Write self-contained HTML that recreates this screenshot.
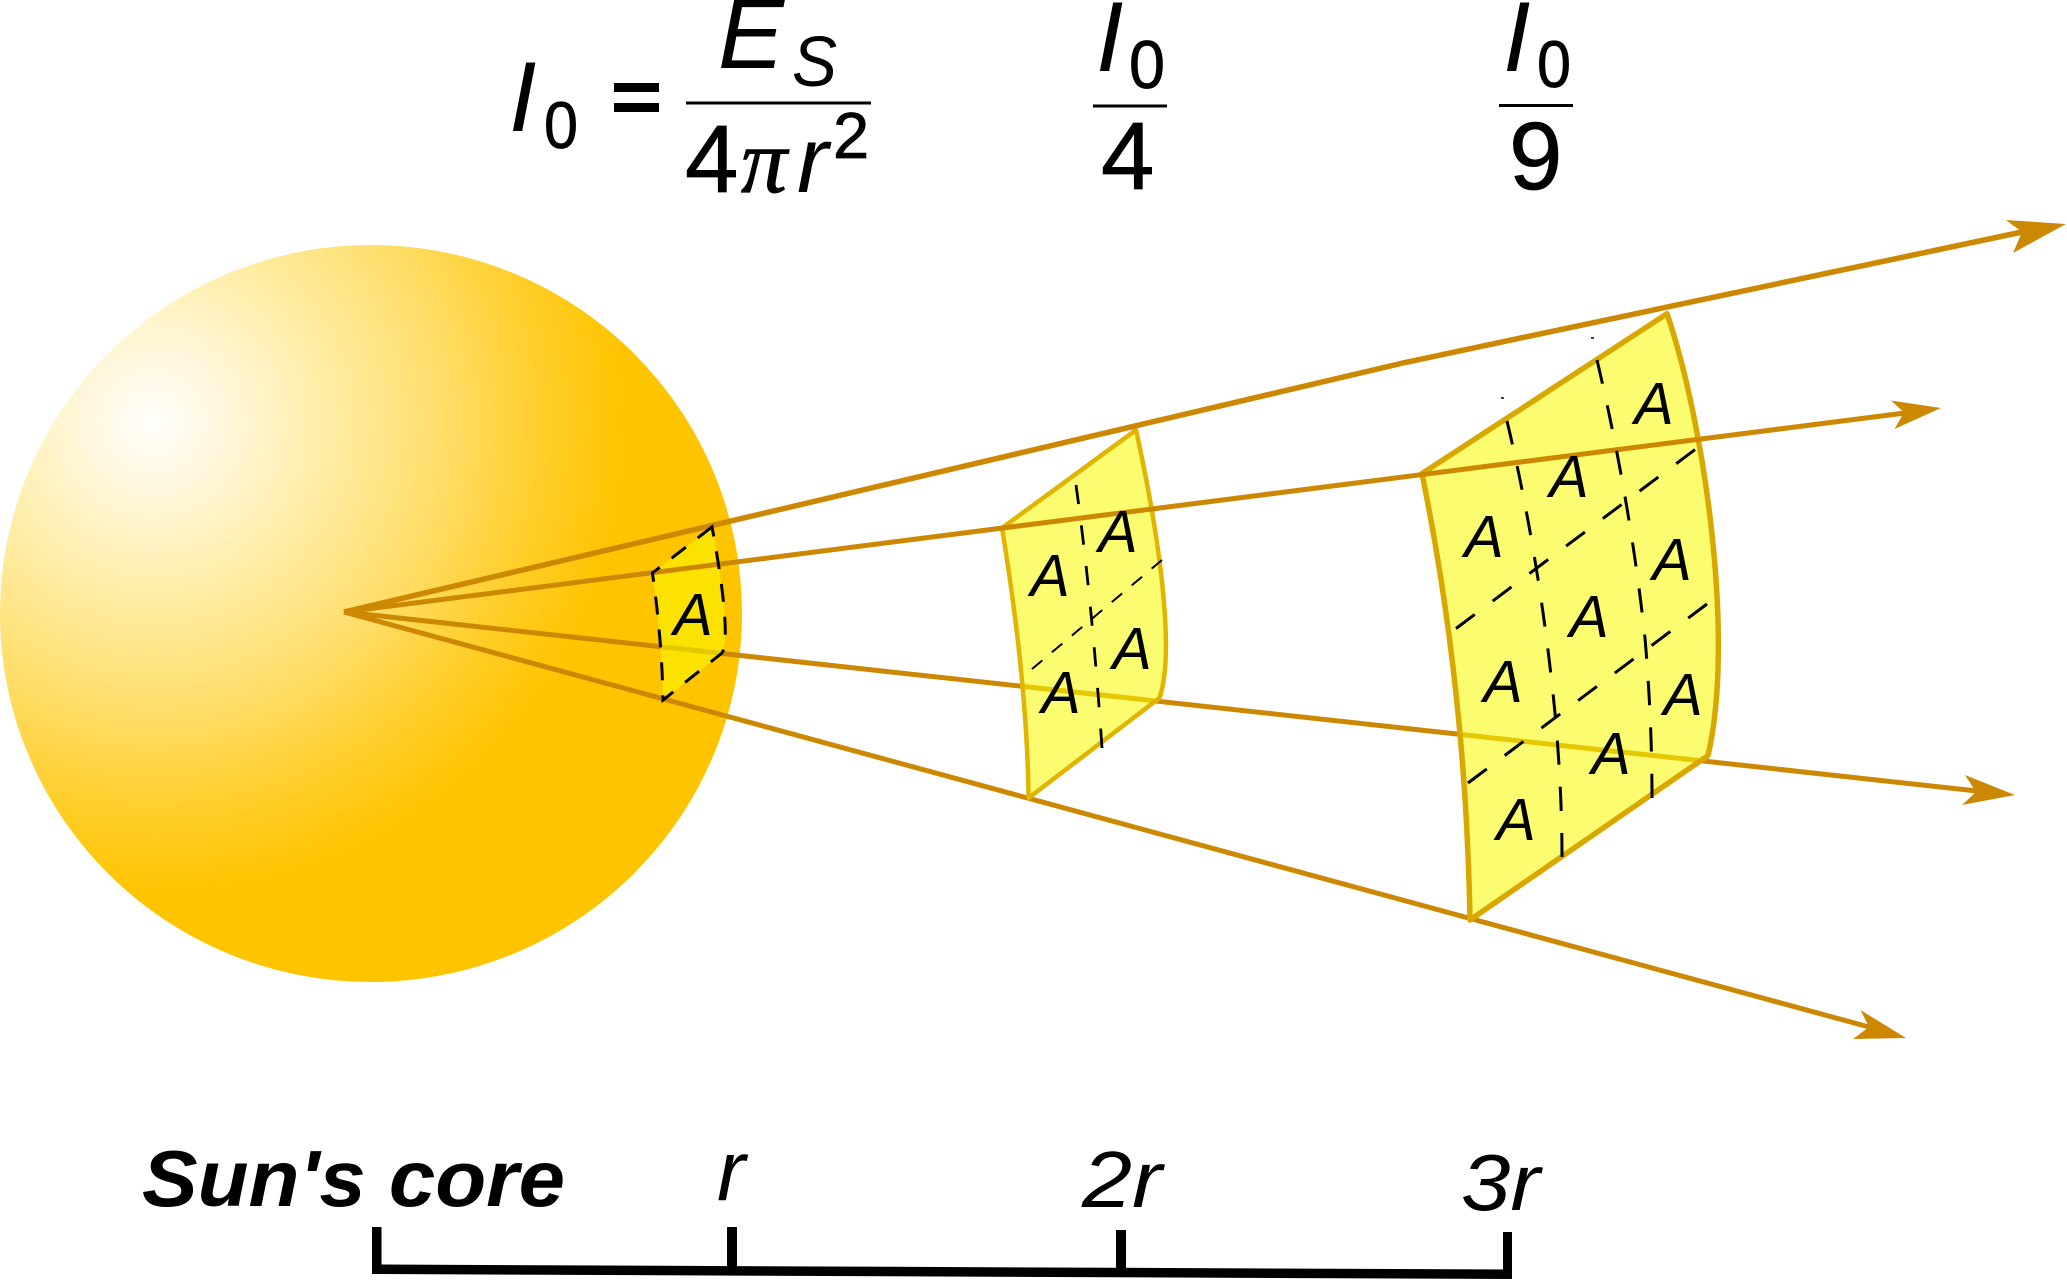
<!DOCTYPE html>
<html>
<head>
<meta charset="utf-8">
<style>
html,body{margin:0;padding:0;background:#fff;width:2067px;height:1280px;overflow:hidden}
svg{display:block}
text{font-family:"Liberation Sans",sans-serif;font-style:italic;fill:#000}
.n{font-style:normal;stroke:#000;stroke-width:0.8}
</style>
</head>
<body>
<svg xmlns="http://www.w3.org/2000/svg" width="2067" height="1280" viewBox="0 0 2067 1280">
<defs>
<radialGradient id="sun" gradientUnits="userSpaceOnUse" cx="153" cy="422" r="475">
<stop offset="0" stop-color="#fffefa"/>
<stop offset="0.15" stop-color="#fff7dc"/>
<stop offset="0.35" stop-color="#ffeeaa"/>
<stop offset="0.6" stop-color="#ffde6c"/>
<stop offset="0.85" stop-color="#ffcc22"/>
<stop offset="1" stop-color="#ffc400"/>
</radialGradient>
</defs>
<ellipse cx="371" cy="613.5" rx="371" ry="368.5" fill="url(#sun)"/>

<g fill="none" stroke="#cc8800" stroke-width="5">
<path d="M344 612L1977 791"/>
<path d="M344 612L1869 1027"/>
</g>

<!-- small patch -->
<path d="M712 527L652.4 573Q662 640 663 700L722 653C730 640 722 580 712 527Z" fill="#f9f900" fill-opacity="0.56"/>
<!-- medium patch -->
<path d="M1136 430L1002 528Q1027 680 1028.6 798L1159.5 698C1176 650 1158 530 1136 430Z" fill="#f9f900" fill-opacity="0.56" stroke="#e0b400" stroke-width="4.5" stroke-linejoin="round"/>
<!-- large patch -->
<path d="M1667 313.7L1422 473.6Q1466 690 1470 920L1708 755.6C1735 640 1705 425 1667 313.7Z" fill="#f9f900" fill-opacity="0.56" stroke="#d9a800" stroke-width="5.5" stroke-linejoin="round"/>

<g fill="none" stroke="#cc8800">
<path d="M344 612L1405 362.5L2022 232" stroke-width="5.5"/>
<path d="M344 612L1905 413" stroke-width="5"/>
</g>
<g fill="#cc8800">
<polygon points="2066,224 2006,220 2022,232 2013,253"/>
<polygon points="1941,408 1891,400.5 1904,412.5 1894.5,429"/>
<polygon points="2015,795 1965,775 1976,792 1962,805"/>
<polygon points="1906,1038 1860.5,1010 1869,1027 1853,1039"/>
</g>

<!-- dashes -->
<g fill="none" stroke="#000">
<path d="M712 527L652.4 573Q662 640 663 700L722 653C730 640 722 580 712 527Z" stroke-width="3" stroke-dasharray="18 15"/>
<path d="M1076 485Q1092 600 1102 748" stroke-width="2.8" pathLength="246" stroke-dasharray="18 20"/>
<path d="M1032 669L1162 560" stroke-width="2" pathLength="176" stroke-dasharray="14 13"/>
<path d="M1507 421Q1540 560 1555 713Q1562 790 1562 857" stroke-width="3" pathLength="438" stroke-dasharray="24 22"/>
<path d="M1597 360Q1630 500 1645 638Q1652 720 1652 798" stroke-width="3" pathLength="438" stroke-dasharray="24 22"/>
<path d="M1456 628.5L1695 449.6" stroke-width="3" pathLength="293" stroke-dasharray="23 22"/>
<path d="M1468 783L1707 604" stroke-width="3" pathLength="293" stroke-dasharray="23 22"/>
<path d="M1501 398h3M1591 338h3" stroke-width="1.6"/>
</g>

<!-- A labels -->
<g font-size="59" text-anchor="middle">
<text x="693" y="635">A</text>
<text x="1118" y="552">A</text>
<text x="1050" y="596">A</text>
<text x="1132" y="669">A</text>
<text x="1061" y="713">A</text>
<text x="1654" y="424">A</text>
<text x="1569" y="497">A</text>
<text x="1484" y="557">A</text>
<text x="1672" y="580">A</text>
<text x="1589" y="637">A</text>
<text x="1503" y="702">A</text>
<text x="1683" y="715">A</text>
<text x="1611" y="774">A</text>
<text x="1516" y="840">A</text>
</g>

<!-- formulas -->
<text x="509" y="131" font-size="99">I</text>
<text x="544" y="148" font-size="66" class="n" textLength="34" lengthAdjust="spacingAndGlyphs">0</text>
<rect x="614" y="83" width="45" height="9"/>
<rect x="614" y="103" width="45" height="9"/>
<text x="718" y="68" font-size="99">E</text>
<text x="792" y="86" font-size="71" textLength="45" lengthAdjust="spacingAndGlyphs">S</text>
<rect x="686" y="101.5" width="185" height="3"/>
<text x="685" y="192" font-size="96" class="n">4</text>
<text x="741" y="192" font-size="92" style="font-family:'Liberation Serif',serif;stroke:#000;stroke-width:1">π</text>
<text x="797" y="192" font-size="94">r</text>
<text x="833" y="158" font-size="65" class="n">2</text>

<text x="1096" y="71" font-size="99">I</text>
<text x="1129" y="88" font-size="68" class="n" textLength="36" lengthAdjust="spacingAndGlyphs">0</text>
<rect x="1093" y="104.5" width="74" height="3"/>
<text x="1101" y="189" font-size="96" class="n">4</text>

<text x="1503" y="71" font-size="99">I</text>
<text x="1537" y="87" font-size="66" class="n" textLength="34" lengthAdjust="spacingAndGlyphs">0</text>
<rect x="1499" y="104" width="74" height="3"/>
<text x="1509" y="189" font-size="96" class="n">9</text>

<!-- bottom labels -->
<text x="142" y="1206" font-size="80" font-weight="bold" textLength="423" lengthAdjust="spacingAndGlyphs">Sun's core</text>
<text x="717" y="1200" font-size="85">r</text>
<text x="1082" y="1207" font-size="80" textLength="80" lengthAdjust="spacingAndGlyphs">2r</text>
<text x="1461" y="1210" font-size="80" textLength="79" lengthAdjust="spacingAndGlyphs">3r</text>

<!-- axis -->
<polygon points="372,1264.5 1512,1269.5 1512,1279 372,1274"/>
<rect x="372" y="1227" width="9.5" height="42"/>
<rect x="727" y="1227" width="10" height="42"/>
<rect x="1116" y="1230" width="10" height="40"/>
<rect x="1503" y="1232" width="9" height="40"/>
</svg>
</body>
</html>
